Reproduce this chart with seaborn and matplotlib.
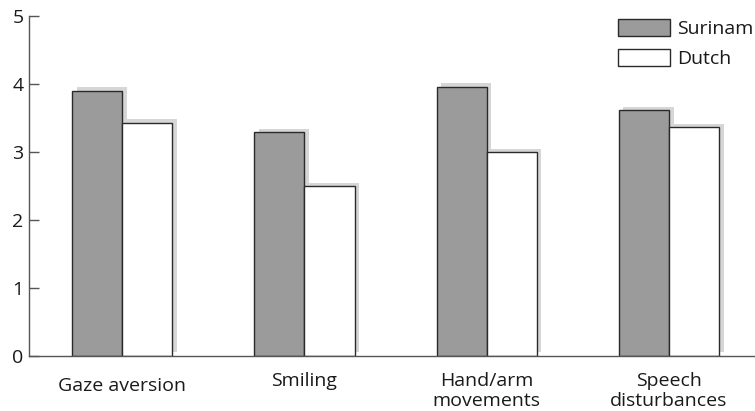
import matplotlib
matplotlib.use("Agg")
import matplotlib.pyplot as plt
import matplotlib.patheffects as pe
import matplotlib.transforms as mtransforms
import numpy as np
import pandas as pd
import seaborn as sns

# Mean ratings per behaviour and group
categories = ["Gaze aversion", "Smiling", "Hand/arm\nmovements", "Speech\ndisturbances"]
surinam = [3.90, 3.29, 3.96, 3.61]
dutch = [3.43, 2.50, 3.00, 3.36]
groups = ["Surinam", "Dutch"]
y_ticks = [0, 1, 2, 3, 4, 5]

df = pd.DataFrame({
    "behaviour": categories * 2,
    "group": [groups[0]] * len(categories) + [groups[1]] * len(categories),
    "score": surinam + dutch,
})

sns.set_theme(style="white")
plt.rcParams["font.family"] = ["Open Sans", "DejaVu Sans"]

W, H, DPI = 755, 411, 100
fig = plt.figure(figsize=(W / DPI, H / DPI), dpi=DPI)
ax = fig.add_axes([29 / W, 1 - 355.5 / H, 1 - 29 / W, (355.5 - 16) / H])

sns.barplot(
    data=df, x="behaviour", y="score", hue="group", order=categories,
    hue_order=groups, palette={"Surinam": "#9b9b9b", "Dutch": "#ffffff"},
    width=0.55, gap=0, edgecolor="#2a2a2a", linewidth=1.0,
    errorbar=None, ax=ax,
)

# drop shadow behind each bar
shadow = [pe.SimplePatchShadow(offset=(3.4, 2.3), shadow_rgbFace="#d6d6d6", alpha=1.0),
          pe.Normal()]
for p in ax.patches:
    p.set_path_effects(shadow)

ax.set_xlim(-0.512, 3.473)
ax.set_ylim(0, 5)
ax.set_yticks(y_ticks)
ax.set_yticklabels([str(t) for t in y_ticks])
ax.set_xlabel("")
ax.set_ylabel("")

for s in ["top", "right"]:
    ax.spines[s].set_visible(False)
for s in ["left", "bottom"]:
    ax.spines[s].set_color("#555555")
    ax.spines[s].set_linewidth(1.0)

ax.tick_params(axis="y", direction="in", length=7, width=1, color="#555555",
               labelsize=14, labelcolor="#1a1a1a", pad=4, left=True)
ax.tick_params(axis="x", length=0, labelsize=14, labelcolor="#1a1a1a", pad=12)
for lbl in ax.get_xticklabels():
    lbl.set_verticalalignment("top")
    lbl.set_linespacing(1.1)
# single-line first label sits a little lower
first = ax.get_xticklabels()[0]
first.set_transform(first.get_transform() +
                    mtransforms.ScaledTranslation(0, -5 / DPI, fig.dpi_scale_trans))

leg = ax.legend(
    loc="upper left", bbox_to_anchor=(618 / W, 1 - 19.5 / H),
    bbox_transform=fig.transFigure, frameon=False, borderpad=0,
    borderaxespad=0, handlelength=2.68, handleheight=0.93,
    handletextpad=0.38, labelspacing=0.55, fontsize=14, title=None,
)
for t in leg.get_texts():
    t.set_color("#1a1a1a")
for h in leg.legend_handles:
    h.set_path_effects([])

fig.savefig("out.png", dpi=DPI)
